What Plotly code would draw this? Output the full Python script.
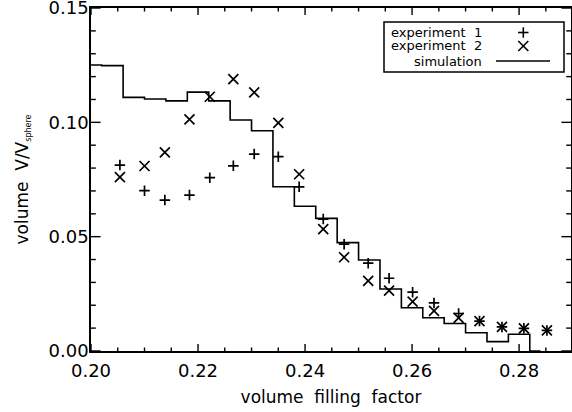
import plotly.graph_objects as go

# experimental data (volume filling factor vs. volume fraction)
exp_x = [0.2054, 0.2100, 0.2138, 0.2184, 0.2222, 0.2266, 0.2305, 0.2350, 0.2389, 0.2434,
         0.2473, 0.2518, 0.2557, 0.2601, 0.2641, 0.2687, 0.2726, 0.2768, 0.2809, 0.2852]
exp1_y = [0.0813, 0.0701, 0.0660, 0.0682, 0.0758, 0.0810, 0.0861, 0.0850, 0.0718, 0.0577,
          0.0467, 0.0384, 0.0318, 0.0257, 0.0210, 0.0164, 0.0131, 0.0105, 0.0099, 0.0090]
exp2_y = [0.0760, 0.0809, 0.0869, 0.1013, 0.1112, 0.1189, 0.1131, 0.0998, 0.0773, 0.0533,
          0.0410, 0.0307, 0.0264, 0.0216, 0.0175, 0.0145, 0.0131, 0.0105, 0.0099, 0.0090]

# simulation (histogram steps)
sim_x = [0.200, 0.204, 0.208, 0.212, 0.216, 0.220, 0.224, 0.228, 0.232, 0.236, 0.240,
         0.244, 0.248, 0.252, 0.256, 0.260, 0.264, 0.268, 0.272, 0.276, 0.280, 0.284]
sim_y = [0.1251, 0.1248, 0.1109, 0.1102, 0.1094, 0.1132, 0.1094, 0.1010, 0.0963, 0.0718, 0.0633,
         0.0580, 0.0474, 0.0398, 0.0271, 0.0189, 0.0145, 0.0120, 0.0080, 0.0041, 0.0073, 0.0]

legend_labels = ["experiment  1", "experiment  2", "simulation"]

# axis ticks
x_major = [0.20, 0.22, 0.24, 0.26, 0.28]
y_major = [0.00, 0.05, 0.10, 0.15]
x_minor = [round(0.2 + 0.005 * i, 3) for i in range(18) if i % 4 != 0]
y_minor = [round(0.01 * i, 2) for i in range(15) if i % 5 != 0]

FONT = "DejaVu Sans"
W, H = 572, 412
ML, MR, MT, MB = 91, 1, 8, 61
PW, PH = W - ML - MR, H - MT - MB

fig = go.Figure()

fig.add_trace(go.Scatter(x=sim_x, y=sim_y, mode="lines", line=dict(shape="hvh", color="black", width=1.6),
                         showlegend=False))
fig.add_trace(go.Scatter(x=exp_x, y=exp1_y, mode="markers",
                         marker=dict(symbol="cross-thin", size=7.5, line=dict(color="black", width=1.7)),
                         showlegend=False))
fig.add_trace(go.Scatter(x=exp_x, y=exp2_y, mode="markers",
                         marker=dict(symbol="x-thin", size=10, line=dict(color="black", width=1.7)),
                         showlegend=False))

# inside tick marks on all four sides (IDL style)
tick_style = dict(color="black", width=1.4)
for vals, ln in ((x_major, 7.0), (x_minor, 3.5)):
    f = ln / PH
    for v in vals:
        fig.add_shape(type="line", xref="x", yref="paper", x0=v, x1=v, y0=0, y1=f, line=tick_style)
        fig.add_shape(type="line", xref="x", yref="paper", x0=v, x1=v, y0=1, y1=1 - f, line=tick_style)
for vals, ln in ((y_major, 9.6), (y_minor, 4.8)):
    f = ln / PW
    for v in vals:
        fig.add_shape(type="line", xref="paper", yref="y", y0=v, y1=v, x0=0, x1=f, line=tick_style)
        fig.add_shape(type="line", xref="paper", yref="y", y0=v, y1=v, x0=1, x1=1 - f, line=tick_style)

# manual legend (text left, key right, as in the original)
def px2paper(px, py):
    return (px - ML) / PW, 1 - (py - MT) / PH

row_py = [32.5, 46.0, 61.0]
key_px = 523.3
line_style = dict(color="black", width=1.6)
bx0, by0 = px2paper(384, 22)
bx1, by1 = px2paper(564, 72)
fig.add_shape(type="rect", xref="paper", yref="paper", x0=bx0, x1=bx1, y0=by1, y1=by0,
              line=dict(color="black", width=1.5), fillcolor="rgba(0,0,0,0)")
a = 5.2
for (xa, ya, xb, yb) in [(key_px - a, row_py[0], key_px + a, row_py[0]),
                         (key_px, row_py[0] - a, key_px, row_py[0] + a)]:
    p0 = px2paper(xa, ya); p1 = px2paper(xb, yb)
    fig.add_shape(type="line", xref="paper", yref="paper", x0=p0[0], y0=p0[1], x1=p1[0], y1=p1[1], line=line_style)
b = 5.0
for (xa, ya, xb, yb) in [(key_px - b, row_py[1] - b, key_px + b, row_py[1] + b),
                         (key_px - b, row_py[1] + b, key_px + b, row_py[1] - b)]:
    p0 = px2paper(xa, ya); p1 = px2paper(xb, yb)
    fig.add_shape(type="line", xref="paper", yref="paper", x0=p0[0], y0=p0[1], x1=p1[0], y1=p1[1], line=line_style)
p0 = px2paper(496, row_py[2]); p1 = px2paper(550, row_py[2])
fig.add_shape(type="line", xref="paper", yref="paper", x0=p0[0], y0=p0[1], x1=p1[0], y1=p1[1], line=line_style)

for lab, py in zip(legend_labels, row_py):
    tx, ty = px2paper(484, py)
    fig.add_annotation(text=lab, xref="paper", yref="paper", x=tx, y=ty, xanchor="right",
                       yanchor="middle", showarrow=False, font=dict(family=FONT, size=13, color="black"))

fig.update_xaxes(showline=True, linecolor="black", linewidth=1.5, mirror=True,
                 ticks="", showgrid=False, zeroline=False, automargin=False,
                 tickfont=dict(family=FONT, size=18, color="black"), tickformat=".2f",
                 range=[0.2, 0.2897], tickvals=x_major, ticklabelstandoff=3,
                 title=dict(text="volume  filling  factor", font=dict(family=FONT, size=17, color="black"), standoff=11))
fig.update_yaxes(showline=True, linecolor="black", linewidth=1.5, mirror=True,
                 ticks="", showgrid=False, zeroline=False, automargin=False, ticklabeloverflow="allow",
                 tickfont=dict(family=FONT, size=18, color="black"), tickformat=".2f",
                 range=[-0.00001, 0.15001], tickvals=y_major, ticklabelstandoff=-3,
                 title=dict(text="volume  V/V<sub><span style='font-size:8px'>sphere</span></sub>",
                            font=dict(family=FONT, size=17, color="black"), standoff=16))

fig.update_layout(
    width=W, height=H,
    margin=dict(l=ML, r=MR, t=MT, b=MB),
    paper_bgcolor="white", plot_bgcolor="white",
)

fig.write_html("out.html", config={"displayModeBar": False},
               post_script="document.body.style.margin='0px';")
